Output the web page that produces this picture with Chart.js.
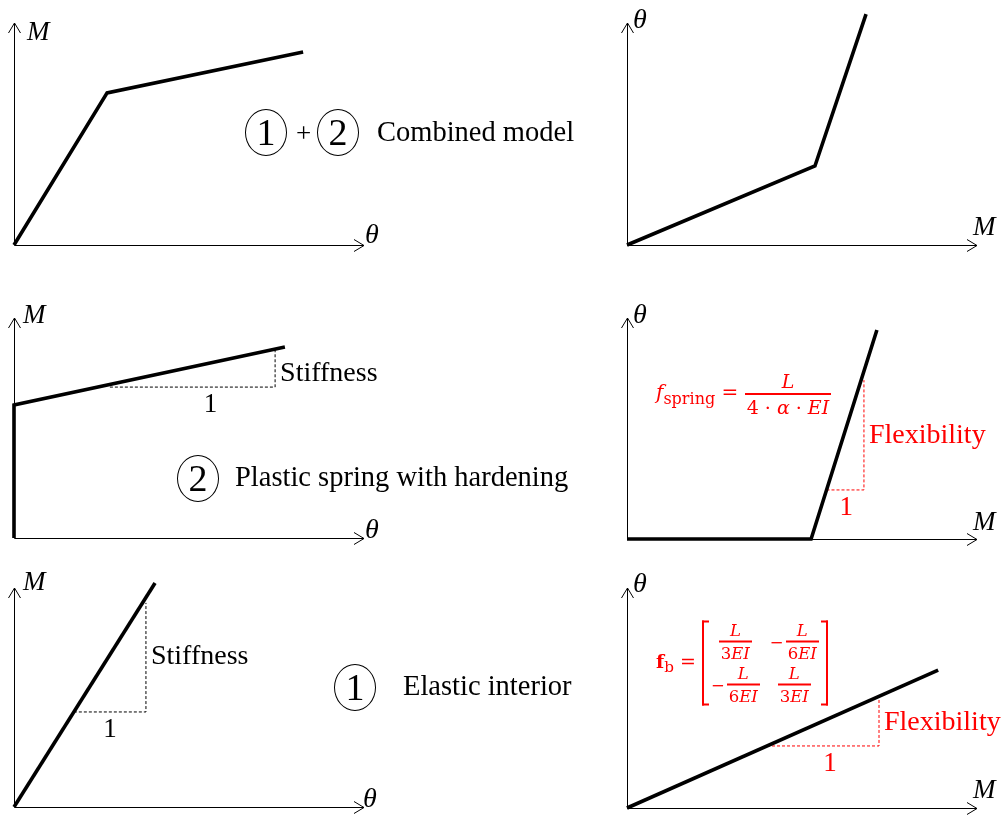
<!DOCTYPE html>
<html>
<head>
<meta charset="utf-8">
<script src="https://cdn.jsdelivr.net/npm/chart.js@4.4.1/dist/chart.umd.min.js"></script>
<style>
    body { margin: 0; background: #fff; }
    #page { position: relative; width: 1003px; height: 816px; overflow: hidden; font-family: "Liberation Serif", "Times New Roman", serif; }
    #page canvas { position: absolute; }
    .txt { position: absolute; font-size: 28.5px; line-height: 1; white-space: nowrap; color: #000; }
    .circ { position: absolute; width: 42px; height: 47px; border: 1.3px solid #000; border-radius: 50%; box-sizing: border-box;
            font-size: 38px; line-height: 45px; text-align: center; }
    .eq { position: absolute; color: #f00; font-family: "DejaVu Serif", serif; display: flex; align-items: center;
          white-space: nowrap; transform: translateY(-50%); }
    .eq sub { font-size: 0.8em; vertical-align: -0.3em; }
    .frac { display: inline-flex; flex-direction: column; align-items: center; }
    .frac .num { padding: 0 2px 1px; }
    .frac .den { border-top: 2px solid #f00; padding: 1px 2px 0; }
    .mat { position: relative; display: flex; align-items: stretch; }
    .br { width: 5px; border: 2px solid #f00; }
    .br.l { border-right: none; }
    .br.r { border-left: none; }
    .grid { display: grid; grid-template-columns: auto auto; column-gap: 10px; row-gap: 1px; padding: 0 2px; justify-items: center; align-items: center; }
    .cell { display: flex; align-items: center; }
    .cell .minus { margin-right: 2px; }
</style>
</head>
<body>
<div id="page">
    <div class="circ" style="left:245px;top:109px">1</div>
    <div class="txt" style="left:296px;top:120px;font-size:27px">+</div>
    <div class="circ" style="left:317px;top:109px">2</div>
    <div class="txt" style="left:377px;top:118px">Combined model</div>

    <div class="circ" style="left:177px;top:455px">2</div>
    <div class="txt" style="left:235px;top:463px">Plastic spring with hardening</div>

    <div class="circ" style="left:334px;top:664px">1</div>
    <div class="txt" style="left:403px;top:672px">Elastic interior</div>

    <div class="eq" style="left:656px;top:394px;font-size:19px">
        <span style="font-size:20px"><i>f</i><sub>spring</sub> =&nbsp;</span>
        <span class="frac"><span class="num"><i>L</i></span><span class="den">4 · <i>α</i> · <i>EI</i></span></span>
    </div>

    <div class="eq" style="left:656px;top:663px;font-size:16.5px">
        <span style="font-size:19px"><b>f</b><sub>b</sub> =&nbsp;</span>
        <span class="mat">
            <span class="br l"></span>
            <span class="grid">
                <span class="cell"><span class="frac"><span class="num"><i>L</i></span><span class="den">3<i>EI</i></span></span></span>
                <span class="cell"><span class="minus">−</span><span class="frac"><span class="num"><i>L</i></span><span class="den">6<i>EI</i></span></span></span>
                <span class="cell"><span class="minus">−</span><span class="frac"><span class="num"><i>L</i></span><span class="den">6<i>EI</i></span></span></span>
                <span class="cell"><span class="frac"><span class="num"><i>L</i></span><span class="den">3<i>EI</i></span></span></span>
            </span>
            <span class="br r"></span>
        </span>
    </div>
</div>
<script>
// every axis runs 0..100, arrow tip at 100

// combined model, M against θ
const combinedTheta = [0, 26.6, 82.6];
const combinedMoment = [0, 68.5, 86.9];
// combined model, θ against M
const combinedFlexMoment = [0, 53.7, 68.3];
const combinedFlexTheta = [0, 35.6, 104];

// plastic spring with hardening
const springTheta = [0, 0, 77.4];
const springMoment = [0, 60.5, 86.8];
const springSlopeTheta = [27.4, 74.6, 74.6];
const springSlopeMoment = [68.6, 68.6, 85.5];
const springFlexMoment = [0, 52.6, 71.4];
const springFlexTheta = [0, 0, 94.6];
const springFlexSlopeMoment = [57.0, 67.7, 67.7];
const springFlexSlopeTheta = [22.2, 22.2, 71.9];

// elastic interior
const elasticTheta = [0, 40.3];
const elasticMoment = [0, 102.3];
const elasticSlopeTheta = [17.1, 37.7, 37.7];
const elasticSlopeMoment = [43.4, 43.4, 93.2];
const elasticFlexMoment = [0, 88.9];
const elasticFlexTheta = [0, 62.7];
const elasticFlexSlopeMoment = [40.0, 72.0, 72.0];
const elasticFlexSlopeTheta = [28.2, 28.2, 50.5];

const slopeLabels = ['Stiffness', 'Flexibility'];
const unitLabel = '1';

const RED = '#ff0000';

const PANELS = [
    { box: [0, 0, 410, 260], pad: { left: 14, top: 23, right: 46, bottom: 15 },
      xs: combinedTheta, ys: combinedMoment, xName: 'θ', yName: 'M', xNameAt: [1, -2], yNameAt: [13, 17] },
    { box: [600, 0, 403, 260], pad: { left: 27, top: 23, right: 26, bottom: 15 },
      xs: combinedFlexMoment, ys: combinedFlexTheta, xName: 'M', yName: 'θ', xNameAt: [-4, -10], yNameAt: [6, 5] },
    { box: [0, 290, 410, 265], pad: { left: 14, top: 28, right: 46, bottom: 17 },
      xs: springTheta, ys: springMoment, xName: 'θ', yName: 'M', xNameAt: [1, 0], yNameAt: [9, 5],
      slope: { xs: springSlopeTheta, ys: springSlopeMoment, color: '#000', label: slopeLabels[0], labelDy: 13, unitDx: 18 } },
    { box: [600, 290, 403, 265], pad: { left: 27, top: 28, right: 26, bottom: 16 },
      xs: springFlexMoment, ys: springFlexTheta, xName: 'M', yName: 'θ', xNameAt: [-4, -9], yNameAt: [6, 5],
      slope: { xs: springFlexSlopeMoment, ys: springFlexSlopeTheta, color: RED, label: slopeLabels[1], labelDy: 8, unitDx: 1 } },
    { box: [0, 560, 410, 256], pad: { left: 14, top: 28, right: 46, bottom: 9 },
      xs: elasticTheta, ys: elasticMoment, xName: 'θ', yName: 'M', xNameAt: [-1, 0], yNameAt: [9, 2],
      slope: { xs: elasticSlopeTheta, ys: elasticSlopeMoment, color: '#000', label: slopeLabels[0], labelDy: 7, unitDx: 0 } },
    { box: [600, 560, 403, 256], pad: { left: 27, top: 28, right: 26, bottom: 8 },
      xs: elasticFlexMoment, ys: elasticFlexTheta, xName: 'M', yName: 'θ', xNameAt: [-4, -10], yNameAt: [6, 4],
      slope: { xs: elasticFlexSlopeMoment, ys: elasticFlexSlopeTheta, color: RED, label: slopeLabels[1], labelDy: 9, unitDx: 7 } }
];

function toPoints(xs, ys) {
    return xs.map((x, i) => ({ x, y: ys[i] }));
}

// axes with open arrowheads, drawn under the curves
const axisArrows = {
    id: 'axisArrows',
    beforeDatasetsDraw(chart, args, opts) {
        const { ctx, chartArea: a } = chart;
        ctx.save();
        ctx.strokeStyle = '#000';
        ctx.lineWidth = 1;
        ctx.beginPath();
        ctx.moveTo(a.left + 0.5, a.bottom + 0.5);
        ctx.lineTo(a.right, a.bottom + 0.5);
        ctx.moveTo(a.right - 10, a.bottom - 5.5);
        ctx.lineTo(a.right, a.bottom + 0.5);
        ctx.lineTo(a.right - 10, a.bottom + 6.5);
        ctx.moveTo(a.left + 0.5, a.bottom + 0.5);
        ctx.lineTo(a.left + 0.5, a.top);
        ctx.moveTo(a.left - 5.5, a.top + 10);
        ctx.lineTo(a.left + 0.5, a.top);
        ctx.lineTo(a.left + 6.5, a.top + 10);
        ctx.stroke();

        ctx.fillStyle = '#000';
        ctx.textAlign = 'left';
        ctx.textBaseline = 'alphabetic';
        const p = opts.panel;
        ctx.font = (p.xName === 'M' ? 'italic 27px' : 'italic 28px') + ' "Liberation Serif", serif';
        ctx.fillText(p.xName, a.right + p.xNameAt[0], a.bottom + p.xNameAt[1]);
        ctx.font = (p.yName === 'M' ? 'italic 27px' : 'italic 28px') + ' "Liberation Serif", serif';
        ctx.fillText(p.yName, a.left + p.yNameAt[0], a.top + p.yNameAt[1]);
        ctx.restore();
    }
};

// slope triangle captions, placed from the triangle's own points
const slopeText = {
    id: 'slopeText',
    afterDatasetsDraw(chart, args, opts) {
        const s = opts.panel.slope;
        if (!s) return;
        const pts = chart.getDatasetMeta(1).data;
        const { ctx } = chart;
        ctx.save();
        ctx.fillStyle = s.color;
        ctx.font = '28px "Liberation Serif", serif';
        ctx.textBaseline = 'alphabetic';
        ctx.textAlign = 'left';
        ctx.fillText(s.label, pts[1].x + 5, (pts[1].y + pts[2].y) / 2 + s.labelDy);
        ctx.textAlign = 'center';
        ctx.font = '27px "Liberation Serif", serif';
        ctx.fillText(unitLabel, (pts[0].x + pts[1].x) / 2 + s.unitDx, pts[1].y + 25);
        ctx.restore();
    }
};

function makePanel(p) {
    const canvas = document.createElement('canvas');
    const [left, top, width, height] = p.box;
    canvas.width = width;
    canvas.height = height;
    canvas.style.left = left + 'px';
    canvas.style.top = top + 'px';
    document.getElementById('page').prepend(canvas);

    const datasets = [{
        data: toPoints(p.xs, p.ys),
        showLine: true,
        borderColor: '#000',
        borderWidth: 3.6,
        borderCapStyle: 'butt',
        borderJoinStyle: 'miter',
        pointRadius: 0,
        clip: false
    }];
    if (p.slope) {
        datasets.push({
            data: toPoints(p.slope.xs, p.slope.ys),
            showLine: true,
            borderColor: p.slope.color,
            borderWidth: 1,
            borderDash: [3, 2],
            pointRadius: 0,
            clip: false
        });
    }

    return new Chart(canvas, {
        type: 'scatter',
        data: { datasets },
        options: {
            responsive: false,
            animation: false,
            devicePixelRatio: 1,
            events: [],
            layout: { padding: p.pad },
            scales: {
                x: { type: 'linear', min: 0, max: 100, display: false },
                y: { type: 'linear', min: 0, max: 100, display: false }
            },
            plugins: {
                legend: { display: false },
                tooltip: { enabled: false },
                axisArrows: { panel: p },
                slopeText: { panel: p }
            }
        },
        plugins: [axisArrows, slopeText]
    });
}

PANELS.forEach(makePanel);
</script>
</body>
</html>
